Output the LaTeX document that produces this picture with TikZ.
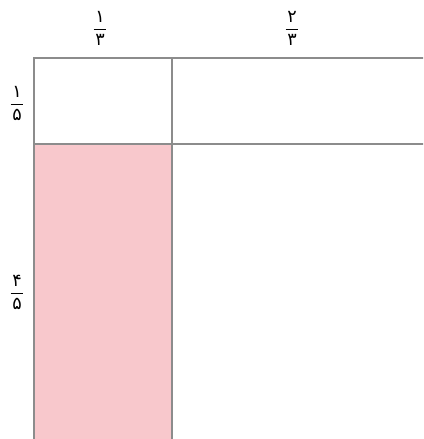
\documentclass[tikz,border=0pt]{standalone}
\usepackage{fontspec}
\usepackage{xcolor}
\newfontfamily\pdigits[Script=Arabic]{DejaVu Sans}
\definecolor{cellpink}{RGB}{248,200,204}
\definecolor{gridgray}{RGB}{140,140,140}
\newcommand{\pfrac}[2]{$\displaystyle\frac{\hbox{\kern1.5pt\pdigits #1\kern1.5pt}}{\hbox{\kern1.5pt\pdigits #2\kern1.5pt}}$}

\begin{document}
\begin{tikzpicture}[every node/.style={font=\fontsize{15}{17}\selectfont}]
        \useasboundingbox (0,0) rectangle (12.69,13.17);
        \clip (0,0) rectangle (12.69,13.17);
        % Shaded cell
        \fill[cellpink] (1.02,8.85) rectangle (5.16,-1.47);
        % Grid
        \draw[gridgray, line width=1.7pt] (1.02,-1.47) rectangle (13.44,11.43);
        \draw[gridgray, line width=1.7pt] (5.16,11.43) -- (5.16,-1.47);
        \draw[gridgray, line width=1.7pt] (1.02,8.85) -- (13.44,8.85);
        % Side labels
        \node (c1) at (3.0,12.33) {\pfrac{۱}{۳}};
        \node (c2) at (8.76,12.33) {\pfrac{۲}{۳}};
        \node (r1) at (0.51,10.08) {\pfrac{۱}{۵}};
        \node (r2) at (0.51,4.41) {\pfrac{۴}{۵}};
    \end{tikzpicture}
\end{document}
